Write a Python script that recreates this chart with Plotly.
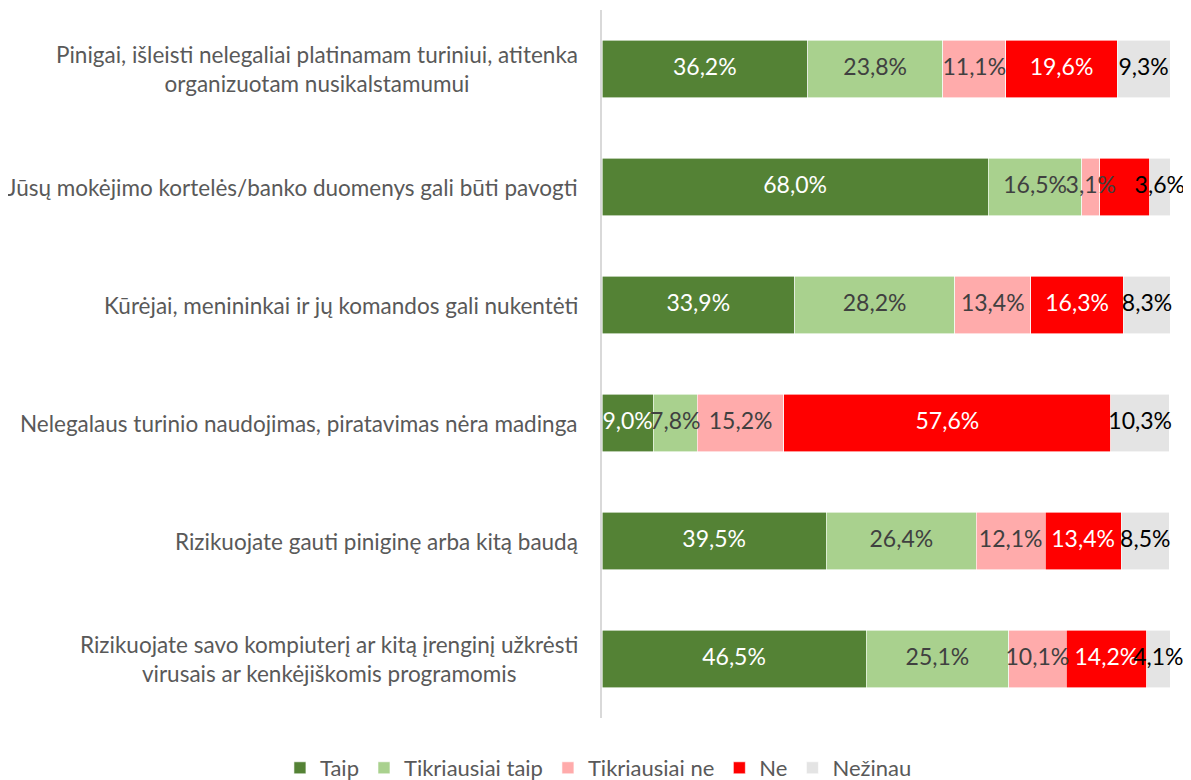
import plotly.graph_objects as go

# statements, top to bottom
categories = [
    "Pinigai, išleisti nelegaliai platinamam turiniui, atitenka<br>organizuotam nusikalstamumui",
    "Jūsų mokėjimo kortelės/banko duomenys gali būti pavogti",
    "Kūrėjai, menininkai ir jų komandos gali nukentėti",
    "Nelegalaus turinio naudojimas, piratavimas nėra madinga",
    "Rizikuojate gauti piniginę arba kitą baudą",
    "Rizikuojate savo kompiuterį ar kitą įrenginį užkrėsti<br>virusais ar kenkėjiškomis programomis",
]

taip = [36.2, 68.0, 33.9, 9.0, 39.5, 46.5]
tikriausiai_taip = [23.8, 16.5, 28.2, 7.8, 26.4, 25.1]
tikriausiai_ne = [11.1, 3.1, 13.4, 15.2, 12.1, 10.1]
ne = [19.6, 8.8, 16.3, 57.6, 13.4, 14.2]
nezinau = [9.3, 3.6, 8.3, 10.3, 8.5, 4.1]

# the "Ne" label of the second row is not shown in the original
ne_shown = [True, False, True, True, True, True]

series = [
    ("Taip", taip, "#548235", "white"),
    ("Tikriausiai taip", tikriausiai_taip, "#A9D18E", "#404040"),
    ("Tikriausiai ne", tikriausiai_ne, "#FFABAB", "#404040"),
    ("Ne", ne, "#FF0000", "white"),
    ("Nežinau", nezinau, "#E4E4E4", "black"),
]

FONT = "Lato"


def fmt(v):
    return f"{v:.1f}".replace(".", ",") + "%"


fig = go.Figure()

# bars first
for name, values, color, text_color in series:
    fig.add_trace(
        go.Bar(
            y=categories,
            x=values,
            name=name,
            orientation="h",
            marker=dict(color=color, line=dict(color="white", width=0.6)),
            hoverinfo="skip",
        )
    )

# data labels on top of all bars, at the middle of each segment
left = [0.0] * len(categories)
for name, values, color, text_color in series:
    mids = [l + v / 2 for l, v in zip(left, values)]
    labels = [fmt(v) for v in values]
    if name == "Ne":
        labels = [t if s else "" for t, s in zip(labels, ne_shown)]
    fig.add_trace(
        go.Scatter(
            x=mids,
            y=categories,
            mode="text",
            text=labels,
            textposition="middle center",
            textfont=dict(color=text_color, size=23, family=FONT),
            showlegend=False,
            hoverinfo="skip",
            cliponaxis=False,
        )
    )
    left = [l + v for l, v in zip(left, values)]

# category labels, centred lines, right edge next to the axis
for cat in categories:
    fig.add_annotation(
        x=0,
        xref="paper",
        y=cat,
        yref="y",
        text=cat,
        showarrow=False,
        xanchor="right",
        align="center",
        xshift=-22,
        font=dict(size=22.5, color="#595959", family=FONT),
    )

fig.update_layout(
    barmode="stack",
    bargap=0.51,
    width=1191,
    height=780,
    margin=dict(l=594, r=29, t=2, b=70, autoexpand=False),
    plot_bgcolor="white",
    paper_bgcolor="white",
    font=dict(family=FONT, color="#595959"),
    legend=dict(
        orientation="h",
        x=-0.567,
        xanchor="left",
        y=-0.0706,
        yanchor="middle",
        font=dict(size=22, color="#595959"),
        traceorder="normal",
    ),
)

fig.update_xaxes(
    range=[0, 100],
    visible=False,
    showgrid=False,
)

fig.update_yaxes(
    autorange="reversed",
    showticklabels=False,
    showgrid=False,
    showline=True,
    linecolor="#D9D9D9",
    linewidth=2,
    ticks="",
)

fig.write_html("out.html")
